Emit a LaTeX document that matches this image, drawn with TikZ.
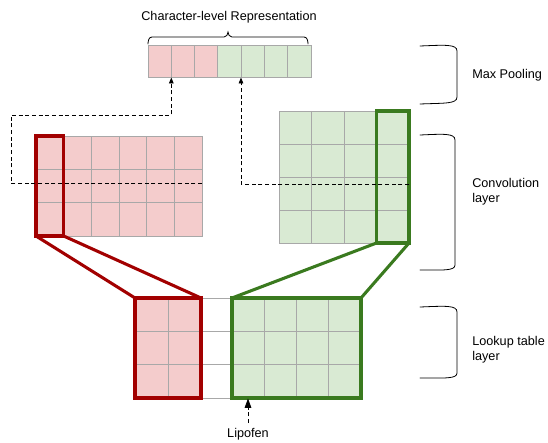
\documentclass[tikz,border=0pt]{standalone}
\usepackage{fontspec}
\setmainfont{Liberation Sans}
\usetikzlibrary{arrows.meta}
\definecolor{redfill}{HTML}{F4CCCC}
\definecolor{greenfill}{HTML}{D9EAD3}
\definecolor{gridgray}{HTML}{A8A8A8}
\definecolor{redline}{HTML}{A20000}
\definecolor{greenline}{HTML}{3A7A1F}
\begin{document}
\begin{tikzpicture}[x=0.75pt,y=-0.75pt,
  gridbox/.style={draw=gridgray, line width=0.7pt, inner sep=0pt, outer sep=0pt, anchor=north west},
  gridline/.style={draw=gridgray, line width=0.7pt},
  redhl/.style={draw=redline, line width=2.3pt, inner sep=0pt, outer sep=0pt, anchor=north west},
  greenhl/.style={draw=greenline, line width=2.3pt, inner sep=0pt, outer sep=0pt, anchor=north west},
  redconn/.style={draw=redline, line width=2.3pt},
  greenconn/.style={draw=greenline, line width=2.3pt},
  dashconn/.style={densely dashed, line width=0.6pt, -{Triangle[length=4.5pt,width=3.5pt]}},
  bracket/.style={line width=0.6pt, line cap=round},
  lbl/.style={font=\fontsize{9.5}{11.5}\selectfont, inner sep=0pt}
]
\useasboundingbox (0,0) rectangle (548,442);

% ---- top row (character-level representation)
\node[gridbox, fill=redfill, minimum width=52.39pt, minimum height=24pt] (topR) at (148,45) {};
\node[gridbox, fill=greenfill, minimum width=69.86pt, minimum height=24pt] (topG) at (217.86,45) {};
\foreach \i in {1,...,6} \draw[gridline] (148+\i*23.286,45) -- ++(0,32);

\node[lbl] (title) at (229,17) {Character-level Representation};
\draw[bracket] (148,44) to[out=90,in=180] (152,37) -- (224,37) to[out=0,in=-90] (228,32)
  to[out=-90,in=180] (232,37) -- (304,37) to[out=0,in=90] (308,44);

% ---- left convolution grid (red)
\node[gridbox, fill=redfill, minimum width=124.5pt, minimum height=75pt] (convL) at (36,136) {};
\foreach \i in {1,...,5} \draw[gridline] (36+\i*27.667,136) -- ++(0,100);
\foreach \j in {1,2} \draw[gridline] (36,136+\j*33.333) -- ++(166,0);

% ---- right convolution grid (green)
\node[gridbox, fill=greenfill, minimum width=97.5pt, minimum height=99pt] (convR) at (279,111) {};
\foreach \i in {1,2,3} \draw[gridline] (279+\i*32.5,111) -- ++(0,132);
\foreach \j in {1,2,3} \draw[gridline] (279,111+\j*33) -- ++(130,0);

% ---- lookup table (bottom)
\node[gridbox, fill=redfill, minimum width=49.5pt, minimum height=75pt] (lutR) at (135,298) {};
\node[gridbox, fill=greenfill, minimum width=96.75pt, minimum height=75pt] (lutG) at (232,298) {};
\draw[gridline] (168,298) -- ++(0,100);
\foreach \i in {1,2,3} \draw[gridline] (232+\i*32.25,298) -- ++(0,100);
\foreach \j in {1,2} \draw[gridline] (135,298+\j*33.333) -- ++(226,0);
\draw[gridline] (lutR.north east) -- (lutG.north west);
\draw[gridline] (lutR.south east) -- (lutG.south west);
\draw[redline, line width=2.3pt] (lutR.north west) rectangle (lutR.south east);
\draw[greenline, line width=2.3pt] (lutG.north west) rectangle (lutG.south east);

% ---- highlighted filters
\node[redhl, minimum width=20.75pt, minimum height=75pt] (hlL) at (36,136) {};
\node[greenhl, minimum width=24.375pt, minimum height=99pt] (hlR) at (376.5,111) {};

\draw[redconn] (hlL.south west) -- (lutR.north west);
\draw[redconn] (hlL.south east) -- (lutR.north east);
\draw[greenconn] (hlR.south west) -- (lutG.north west);
\draw[greenconn] (hlR.south east) -- (lutG.north east);

% ---- dashed max-pooling arrows
\coordinate (sL) at (202,183);
\coordinate (aL) at (171.3,77.5);
\draw[dashconn] (sL) -- (11,183) -- (11,115) -- (171.3,115) -- (aL);
\coordinate (sR) at (409,184);
\coordinate (aR) at (241,77.5);
\draw[dashconn] (sR) -- (241,184) -- (aR);

% ---- Lipofen
\node[lbl] (lip) at (248,434) {Lipofen};
\coordinate (lipT) at (248,398.5);
\draw[densely dashed, line width=0.6pt, -{Triangle[length=7pt,width=5pt]}] (248,423) -- (lipT);

% ---- right brackets and labels
\draw[bracket] (420,46) .. controls (445,45) and (457,44) .. (457,51) -- (457,97) .. controls (457,104) and (445,103) .. (420,104);
\node[lbl, anchor=west] (mp) at (472,75) {Max Pooling};

\draw[bracket] (420,135) .. controls (443,134) and (455,133) .. (455,140) -- (455,265) .. controls (455,271) and (443,270) .. (420,270);
\node[lbl, anchor=west, align=left] (cv) at (472,192) {Convolution\\layer};

\draw[bracket] (420,307) .. controls (445,306) and (457,305) .. (457,312) -- (457,373) .. controls (457,379) and (445,378) .. (420,378);
\node[lbl, anchor=west, align=left] (lt) at (472,350) {Lookup table\\layer};
\end{tikzpicture}
\end{document}
